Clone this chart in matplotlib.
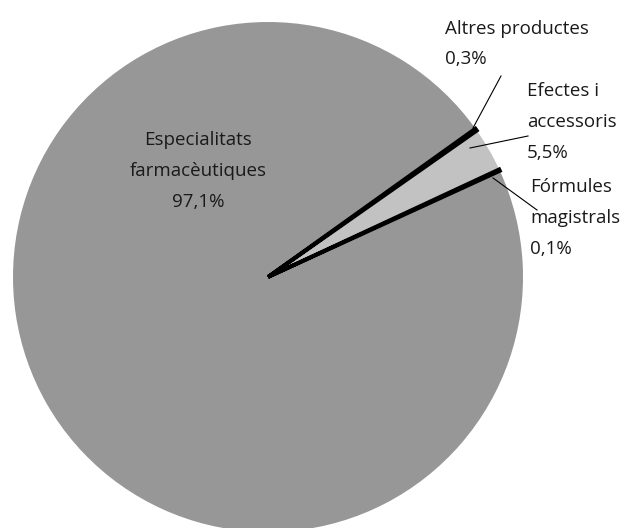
import matplotlib
matplotlib.use('Agg')
import matplotlib.pyplot as plt

plt.rcParams['font.family'] = ['Open Sans', 'DejaVu Sans']

# slices in drawing order (counter-clockwise from the lower black line)
categories = ['Fórmules\nmagistrals', 'Efectes i\naccessoris', 'Altres productes',
              'Especialitats\nfarmacèutiques']
label_pct = ['0,1%', '5,5%', '0,3%', '97,1%']
# angular shares as they appear in the picture
wedge_sizes = [0.1, 2.8, 0.15, 96.95]
colors = ['#979797', '#c2c2c2', '#979797', '#979797']
edges = ['black', 'none', 'black', 'none']

fig = plt.figure(figsize=(6.25, 5.28), dpi=100)
ax = fig.add_axes([0, 0, 1, 1])

H = 528
wedges, _ = ax.pie(wedge_sizes, colors=colors, startangle=24.6, counterclock=True,
                   center=(268, H - 277), radius=255, frame=True)
for w, ec in zip(wedges, edges):
    if ec != 'none':
        w.set_edgecolor(ec)
        w.set_linewidth(2.8)
        w.set_zorder(5)
    else:
        w.set_edgecolor('none')
ax.set_xlim(0, 625)
ax.set_ylim(0, 528)
ax.set_aspect('equal')
ax.axis('off')

txt = dict(fontsize=13.5, color='#1a1a1a', linespacing=1.9)

# Especialitats
ax.text(198, H - 171, categories[3] + '\n' + label_pct[3], ha='center', va='center', **txt)
# Altres productes
ax.text(445, H - 44, categories[2] + '\n' + label_pct[2], ha='left', va='center', **txt)
ax.plot([473, 501], [H - 128, H - 76], color='black', lw=0.8)
# Efectes i accessoris
ax.text(527, H - 122, categories[1] + '\n' + label_pct[1], ha='left', va='center', **txt)
ax.plot([470, 528], [H - 148, H - 136], color='black', lw=0.8)
# Fórmules magistrals
ax.text(530, H - 218, categories[0] + '\n' + label_pct[0], ha='left', va='center', **txt)
ax.plot([493, 537], [H - 178, H - 210], color='black', lw=0.8)

fig.savefig('out.png', dpi=100)
